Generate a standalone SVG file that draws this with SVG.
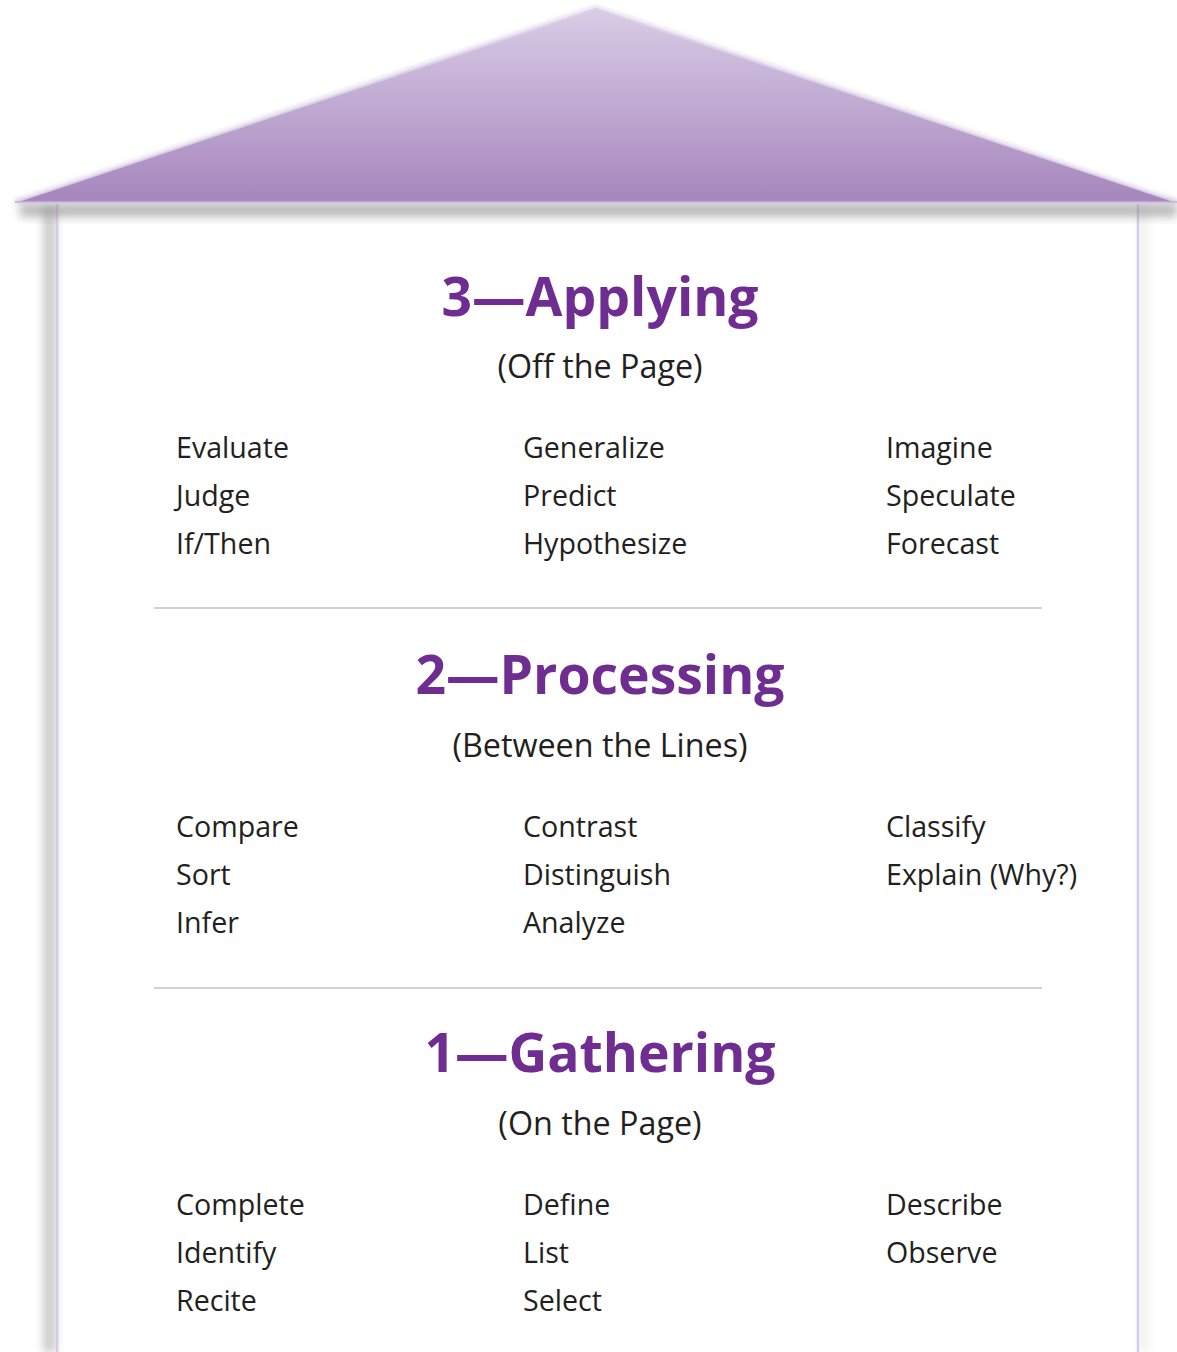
<svg xmlns="http://www.w3.org/2000/svg" width="1177" height="1352" viewBox="0 0 1177 1352">
  <defs>
    <linearGradient id="roofFill" x1="0" y1="8" x2="0" y2="202" gradientUnits="userSpaceOnUse">
      <stop offset="0" stop-color="#d9cde6"/>
      <stop offset="1" stop-color="#a686bd"/>
    </linearGradient>
    <filter id="soft" x="-10%" y="-50%" width="120%" height="200%">
      <feGaussianBlur stdDeviation="5"/>
    </filter>
    <filter id="wallSoft" x="-200%" y="-5%" width="500%" height="110%">
      <feGaussianBlur stdDeviation="4"/>
    </filter>
    <filter id="edgeGlow" x="-5%" y="-20%" width="110%" height="140%">
      <feGaussianBlur stdDeviation="2"/>
    </filter>
  </defs>
  <style>
    .head { font-family: "Open Sans", "Liberation Sans", sans-serif; font-weight: 700; font-size: 53.5px; fill: #6f2c91; text-anchor: middle; }
    .sub { font-family: "Open Sans", "Liberation Sans", sans-serif; font-size: 32.3px; fill: #231f20; text-anchor: middle; }
    .item { font-family: "Open Sans", "Liberation Sans", sans-serif; font-size: 28.6px; fill: #231f20; }
    .divider { stroke: #d2d2d2; stroke-width: 2; }
  </style>

  <rect width="1177" height="1352" fill="#ffffff"/>

  <!-- house walls -->
  <g id="walls">
    <rect x="43" y="206" width="13" height="1146" fill="#9a9a9a" opacity="0.5" filter="url(#wallSoft)"/>
    <rect x="1140" y="206" width="8" height="1146" fill="#bdbdbd" opacity="0.25" filter="url(#wallSoft)"/>
    <line x1="57" y1="204" x2="57" y2="1352" stroke="#d6cae6" stroke-width="2.5"/>
    <line x1="1138" y1="204" x2="1138" y2="1352" stroke="#d6cae6" stroke-width="2.5"/>
  </g>

  <!-- roof -->
  <g id="roof">
    <rect x="20" y="203" width="1157" height="14" fill="#8c8c8c" opacity="0.6" filter="url(#soft)"/>
    <polygon points="596,8 15,202 1177,202" fill="none" stroke="#cfc3dc" stroke-width="4" opacity="0.7" filter="url(#edgeGlow)"/>
    <polygon points="596,8 15,202 1177,202" fill="url(#roofFill)"/>
    <polyline points="16,202 596,9 1176,202" fill="none" stroke="#dcd0e8" stroke-width="1.5"/>
    <line x1="15" y1="202" x2="1177" y2="202" stroke="#c6b5d8" stroke-width="1.5"/>
  </g>

  <!-- level dividers -->
  <g id="dividers">
    <line class="divider" x1="154" y1="608" x2="1042" y2="608"/>
    <line class="divider" x1="154" y1="988" x2="1042" y2="988"/>
  </g>

  <!-- level 3 -->
  <g id="level-3-applying">
    <text class="head" x="600" y="316">3—Applying</text>
    <text class="sub" x="600" y="378">(Off the Page)</text>
    <text class="item" x="176" y="458">Evaluate</text>
    <text class="item" x="176" y="506">Judge</text>
    <text class="item" x="176" y="554">If/Then</text>
    <text class="item" x="523" y="458">Generalize</text>
    <text class="item" x="523" y="506">Predict</text>
    <text class="item" x="523" y="554">Hypothesize</text>
    <text class="item" x="886" y="458">Imagine</text>
    <text class="item" x="886" y="506">Speculate</text>
    <text class="item" x="886" y="554">Forecast</text>
  </g>

  <!-- level 2 -->
  <g id="level-2-processing">
    <text class="head" x="600" y="694">2—Processing</text>
    <text class="sub" x="600" y="757">(Between the Lines)</text>
    <text class="item" x="176" y="837">Compare</text>
    <text class="item" x="176" y="885">Sort</text>
    <text class="item" x="176" y="933">Infer</text>
    <text class="item" x="523" y="837">Contrast</text>
    <text class="item" x="523" y="885">Distinguish</text>
    <text class="item" x="523" y="933">Analyze</text>
    <text class="item" x="886" y="837">Classify</text>
    <text class="item" x="886" y="885">Explain (Why?)</text>
  </g>

  <!-- level 1 -->
  <g id="level-1-gathering">
    <text class="head" x="600" y="1072">1—Gathering</text>
    <text class="sub" x="600" y="1135">(On the Page)</text>
    <text class="item" x="176" y="1215">Complete</text>
    <text class="item" x="176" y="1263">Identify</text>
    <text class="item" x="176" y="1311">Recite</text>
    <text class="item" x="523" y="1215">Define</text>
    <text class="item" x="523" y="1263">List</text>
    <text class="item" x="523" y="1311">Select</text>
    <text class="item" x="886" y="1215">Describe</text>
    <text class="item" x="886" y="1263">Observe</text>
  </g>
</svg>
